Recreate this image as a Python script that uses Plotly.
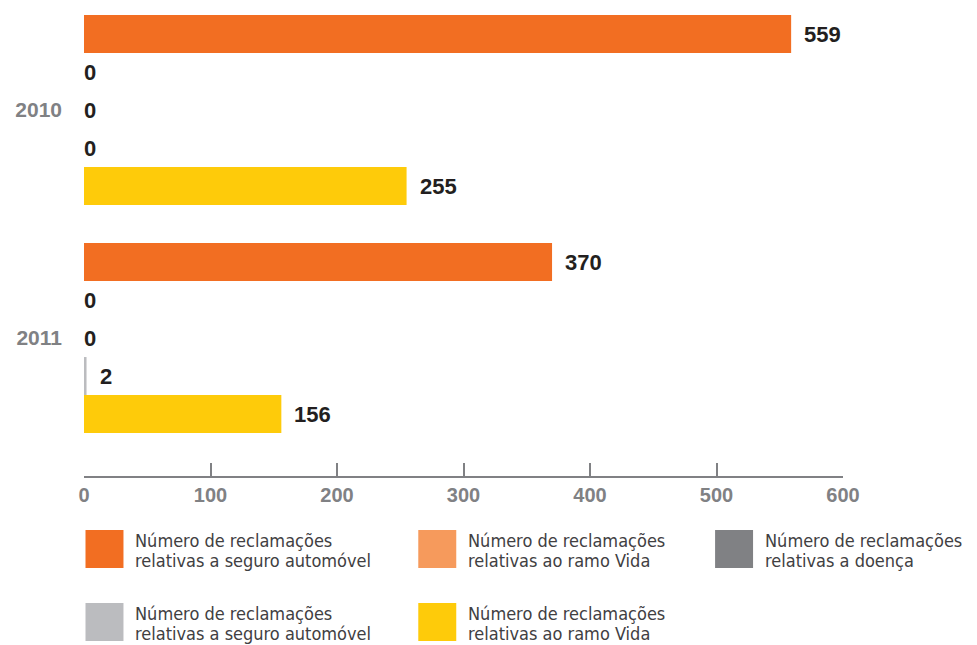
import plotly.graph_objects as go

# ---- data ----
years = ["2010", "2011"]
legend_line1 = ["Número de reclamações"] * 5
legend_line2 = [
    "relativas a seguro automóvel",
    "relativas ao ramo Vida",
    "relativas a doença",
    "relativas a seguro automóvel",
    "relativas ao ramo Vida",
]
auto_a = [559, 370]
vida_a = [0, 0]
doenca = [0, 0]
auto_b = [0, 2]
vida_b = [255, 156]
series_values = [auto_a, vida_a, doenca, auto_b, vida_b]
x_ticks = [0, 100, 200, 300, 400, 500, 600]

colors = ["#F26E22", "#F69A5C", "#808184", "#BBBCBF", "#FECB0A"]

# page offset (body margin) -> work in reference pixel coordinates
OFF = 8
W, H = 977 - OFF, 645 - OFF
plot_l, plot_r, plot_t, plot_b = 83.5 - OFF, 843 - OFF, 10 - OFF, 476 - OFF
ML, MR, MT, MB = plot_l, W - plot_r, plot_t, H - plot_b
PW = W - ML - MR
PH = H - MT - MB

def px_x(px):
    return (px - OFF - ML) / PW

def px_y(py):
    return (plot_b - (py - OFF)) / PH

fig = go.Figure()
n = len(series_values)
for i, (vals, col) in enumerate(zip(series_values, colors)):
    fig.add_trace(go.Bar(
        y=years, x=vals, orientation="h", name=legend_line1[i] + " " + legend_line2[i],
        marker=dict(color=col, line=dict(width=0)),
        showlegend=False, hoverinfo="x",
    ))

annotations = []
bargap = 1 / 6
w = (1 - bargap) / n
for i, vals in enumerate(series_values):
    for j, v in enumerate(vals):
        annotations.append(dict(
            x=v, y=j - 0.5 + bargap / 2 + (i + 0.5) * w, xref="x", yref="y",
            text=str(v), showarrow=False, xanchor="left", yanchor="middle",
            xshift=11 if v > 0 else -2,
            font=dict(family="Liberation Sans, Arial, sans-serif", size=22,
                      color="#231F20", weight="bold"),
        ))

# legend (manual, below the plot)
legend_cols = [85, 418, 715]
legend_rows = [530, 603]
shapes = []
sq = 38
lfont = dict(family="DejaVu Sans Condensed, Liberation Sans Narrow, sans-serif",
             size=18, color="#414042")
for i, col in enumerate(colors):
    r, c = divmod(i, 3)
    x0, y0 = legend_cols[c], legend_rows[r]
    shapes.append(dict(
        type="rect", xref="paper", yref="paper",
        x0=px_x(x0), x1=px_x(x0 + sq), y0=px_y(y0 + sq), y1=px_y(y0),
        fillcolor=col, line=dict(width=0),
    ))
    for k, txt in enumerate([legend_line1[i], legend_line2[i]]):
        annotations.append(dict(
            x=px_x(x0 + sq + 10), y=px_y(y0 + 10 + 20 * k), xref="paper", yref="paper",
            text=txt, showarrow=False, xanchor="left", yanchor="middle", align="left",
            font=lfont,
        ))

fig.update_layout(
    width=W, height=H,
    margin=dict(l=ML, r=MR, t=MT, b=MB, pad=0),
    paper_bgcolor="white", plot_bgcolor="white",
    barmode="group", bargap=bargap, bargroupgap=0,
    annotations=annotations, shapes=shapes,
    showlegend=False,
    xaxis=dict(
        range=[0, 600], tickvals=x_ticks, ticktext=[str(t) for t in x_ticks],
        showgrid=False, zeroline=False,
        showline=True, linecolor="#808184", linewidth=2,
        ticks="inside", ticklen=13, tickwidth=2, tickcolor="#808184",
        tickfont=dict(family="Liberation Sans, Arial, sans-serif",
                      size=20, color="#808184", weight="bold"),
        ticklabelstandoff=0,
    ),
    yaxis=dict(
        type="category", range=[1.605, -0.4386],
        showgrid=False, zeroline=False, showline=False, ticks="",
        tickfont=dict(family="Liberation Sans, Arial, sans-serif", size=21,
                      color="#808184", weight="bold"),
        ticklabelstandoff=21,
    ),
    font=dict(family="Liberation Sans, Arial, sans-serif"),
)

fig.write_html("out.html")
